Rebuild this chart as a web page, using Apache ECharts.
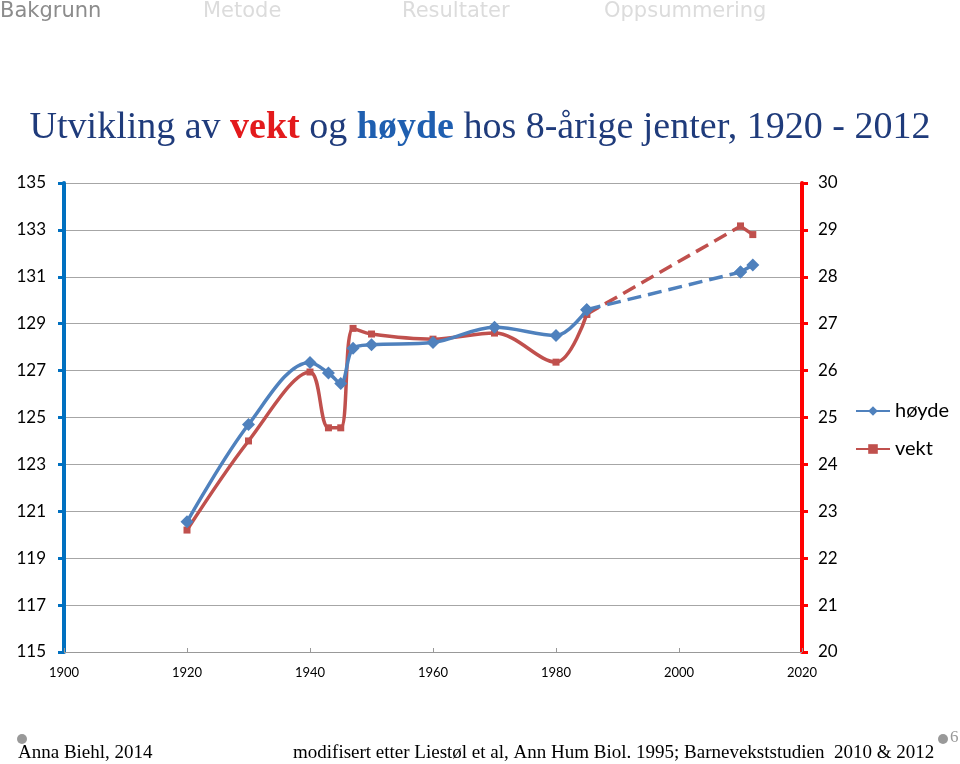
<!DOCTYPE html>
<html><head><meta charset="utf-8">
<script src="https://cdn.jsdelivr.net/npm/echarts@6/dist/echarts.min.js"></script>
<style>html,body{margin:0;padding:0;background:#fff}#c{width:960px;height:764px}</style>
</head><body><div id="c"></div>
<script>
const years = [1920, 1930, 1940, 1943, 1945, 1947, 1950, 1960, 1970, 1980, 1985, 2010, 2012];
const hoyde = [120.55, 124.7, 127.35, 126.9, 126.45, 127.95, 128.1, 128.2, 128.85, 128.5, 129.6, 131.2, 131.5];
const vekt  = [22.6, 24.5, 25.97, 24.78, 24.78, 26.9, 26.78, 26.67, 26.8, 26.18, 27.2, 29.08, 28.9];
const leftTicks = [115, 117, 119, 121, 123, 125, 127, 129, 131, 133, 135];
const rightTicks = [20, 21, 22, 23, 24, 25, 26, 27, 28, 29, 30];
const xTicks = [1900, 1920, 1940, 1960, 1980, 2000, 2020];

const BLUE = '#4F81BD', RED = '#C0504D';
const pairs = (arr, a, b) => years.slice(a, b + 1).map((y, i) => [y, arr[a + i]]);
const solidEnd = 10, dashEnd = 11, last = years.length - 1;

function seg(name, arr, axis, color, symbol, size, a, b, type, smooth) {
  return {
    name: name, type: 'line', yAxisIndex: axis, data: pairs(arr, a, b),
    smooth: smooth, symbol: symbol, symbolSize: size, showSymbol: true,
    lineStyle: {color: color, width: 3.5, type: type},
    itemStyle: {color: color}, z: axis === 0 ? 3 : 2
  };
}

const chart = echarts.init(document.getElementById('c'));
const navFont = '"DejaVu Sans", sans-serif';
const serif = '"Liberation Serif", serif';
chart.setOption({
  animation: false,
  title: {
    left: 'center', top: 104,
    text: '{n|Utvikling av }{r|vekt}{n| og }{b|høyde}{n| hos 8-årige jenter, 1920 - 2012}',
    textStyle: {
      rich: {
        n: {fontFamily: serif, fontSize: 38, color: '#1F3B7B', fontWeight: 'normal'},
        r: {fontFamily: serif, fontSize: 38, color: '#E31A1C', fontWeight: 'bold'},
        b: {fontFamily: serif, fontSize: 38, color: '#1F5FB0', fontWeight: 'bold'}
      }
    }
  },
  legend: {
    orient: 'vertical', left: 850, top: 396, itemGap: 18, itemWidth: 34, itemHeight: 12,
    data: ['høyde', 'vekt'],
    textStyle: {fontFamily: 'Lato, sans-serif', fontSize: 20, color: '#000'}
  },
  grid: {left: 64, right: 158, top: 183, bottom: 112},
  xAxis: {
    type: 'value', min: xTicks[0], max: xTicks[xTicks.length - 1], interval: 20,
    axisLine: {show: true, onZero: false, lineStyle: {color: '#999', width: 1}},
    axisTick: {show: true, inside: true, length: 4, lineStyle: {color: '#999'}},
    axisLabel: {fontFamily: 'Lato, sans-serif', fontSize: 13, color: '#000', margin: 14,
      formatter: v => String(v)},
    splitLine: {show: false}
  },
  yAxis: [{
    type: 'value', min: leftTicks[0], max: leftTicks[leftTicks.length - 1], interval: 2,
    axisLine: {show: true, lineStyle: {color: '#0070C0', width: 4}},
    axisTick: {show: true, length: 6, lineStyle: {color: '#0070C0', width: 3}},
    axisLabel: {fontFamily: 'Lato, sans-serif', fontSize: 17, color: '#000', margin: 18},
    splitLine: {show: true, lineStyle: {color: '#A6A6A6', width: 1}}
  }, {
    type: 'value', min: rightTicks[0], max: rightTicks[rightTicks.length - 1], interval: 1,
    position: 'right',
    axisLine: {show: true, lineStyle: {color: '#FF0000', width: 4}},
    axisTick: {show: true, length: 6, lineStyle: {color: '#FF0000', width: 3}},
    axisLabel: {fontFamily: 'Lato, sans-serif', fontSize: 17, color: '#000', margin: 16},
    splitLine: {show: false}
  }],
  series: [
    seg('høyde', hoyde, 0, BLUE, 'diamond', 13, 0, solidEnd, 'solid', 0.35),
    seg('høyde-d', hoyde, 0, BLUE, 'diamond', 13, solidEnd, dashEnd, 'dashed', false),
    seg('høyde-e', hoyde, 0, BLUE, 'diamond', 13, dashEnd, last, 'solid', false),
    seg('vekt', vekt, 1, RED, 'rect', 7, 0, solidEnd, 'solid', 0.35),
    seg('vekt-d', vekt, 1, RED, 'rect', 7, solidEnd, dashEnd, 'dashed', false),
    seg('vekt-e', vekt, 1, RED, 'rect', 7, dashEnd, last, 'solid', false)
  ],
  graphic: [
    {type: 'text', left: 0, top: 1, style: {text: 'Bakgrunn', font: '21px ' + navFont, fill: '#8C8C8C'}},
    {type: 'text', left: 203, top: 1, style: {text: 'Metode', font: '21px ' + navFont, fill: '#DCDCDC'}},
    {type: 'text', left: 402, top: 1, style: {text: 'Resultater', font: '21px ' + navFont, fill: '#DCDCDC'}},
    {type: 'text', left: 604, top: 1, style: {text: 'Oppsummering', font: '21px ' + navFont, fill: '#DCDCDC'}},
    {type: 'circle', shape: {cx: 22, cy: 739, r: 5}, style: {fill: '#999'}},
    {type: 'circle', shape: {cx: 943, cy: 739, r: 5}, style: {fill: '#999'}},
    {type: 'text', left: 950, top: 729, style: {text: '6', font: '17px ' + serif, fill: '#999'}},
    {type: 'text', left: 18, top: 744, style: {text: 'Anna Biehl, 2014', font: '19px ' + serif, fill: '#000'}},
    {type: 'text', left: 293, top: 744, style: {text: 'modifisert etter Liestøl et al, Ann Hum Biol. 1995; Barnevekststudien  2010 & 2012', font: '19px ' + serif, fill: '#000'}}
  ]
});
</script></body></html>
